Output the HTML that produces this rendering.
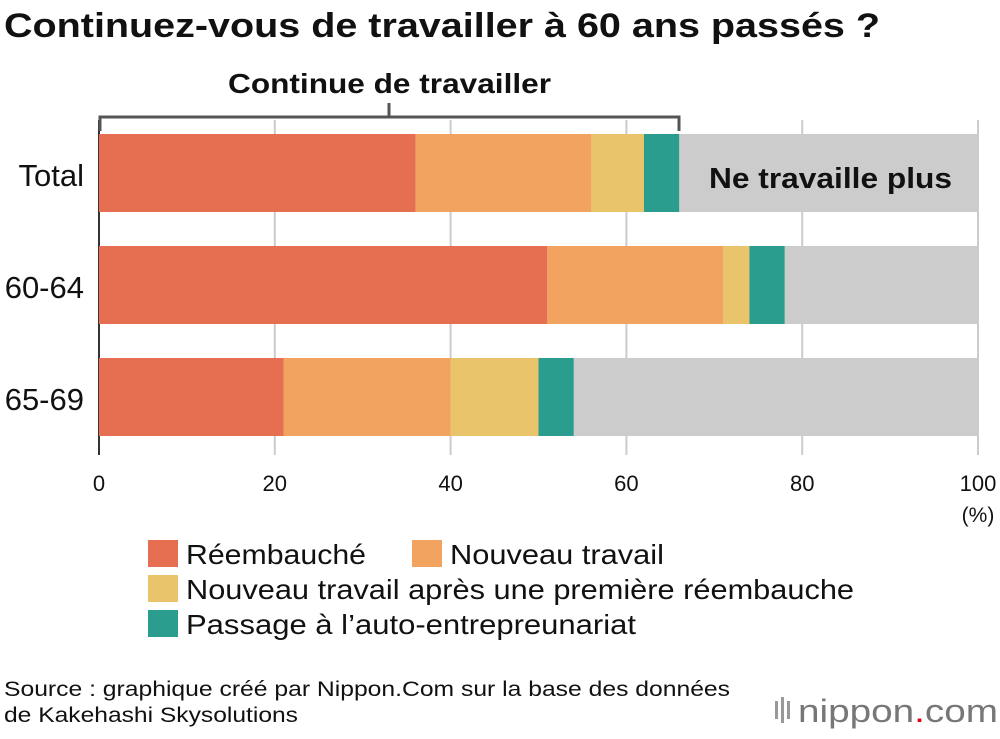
<!DOCTYPE html>
<html><head><meta charset="utf-8"><style>
body{margin:0;background:#fff;width:1000px;height:734px;overflow:hidden;font-family:"Liberation Sans",Arial,sans-serif}
svg text{font-family:"Liberation Sans",Arial,sans-serif}
</style></head><body>
<svg id="c" width="1000" height="734" xmlns="http://www.w3.org/2000/svg">
<text x="4" y="37" font-size="34" font-weight="bold" fill="#111" textLength="876" lengthAdjust="spacingAndGlyphs">Continuez-vous de travailler à 60 ans passés ?</text>
<g id="grid"></g>
<g id="bars"></g>
<g id="ticks"></g>
<path d="M100 131 V117 H679 V131 M389 117 V103" fill="none" stroke="#555" stroke-width="3"/>
<text x="228" y="93" font-size="28" font-weight="bold" fill="#111" textLength="323" lengthAdjust="spacingAndGlyphs">Continue de travailler</text>
<text x="709" y="188" font-size="29" font-weight="bold" fill="#111" textLength="243" lengthAdjust="spacingAndGlyphs">Ne travaille plus</text>
<text x="978" y="522" font-size="21" text-anchor="middle" fill="#111">(%)</text>
<g id="legend"></g>
<text x="4" y="696" font-size="21" fill="#111" textLength="726" lengthAdjust="spacingAndGlyphs">Source : graphique créé par Nippon.Com sur la base des données</text>
<text x="4" y="722" font-size="21" fill="#111" textLength="294" lengthAdjust="spacingAndGlyphs">de Kakehashi Skysolutions</text>
<g>
<rect x="775" y="701" width="3" height="18" fill="#999"/><rect x="781" y="697" width="3" height="26" fill="#999"/><rect x="787" y="701" width="3" height="18" fill="#999"/>
<text x="798" y="722" font-size="32" fill="#777" textLength="200" lengthAdjust="spacingAndGlyphs">nippon<tspan fill="#e60012">.</tspan>com</text>
</g>
</svg>
<script>
const categories=["Total","60-64","65-69"];
const seriesNames=["Réembauché","Nouveau travail","Nouveau travail après une première réembauche","Passage à l’auto-entrepreunariat"];
const reembauche=[36,51,21];
const nouveau=[20,20,19];
const apres=[6,3,10];
const passage=[4,4,4];
const ticks=[0,20,40,60,80,100];
const colors=["#e66f51","#f2a35f","#e9c46a","#2a9d8f"];
const NS="http://www.w3.org/2000/svg";
const x=v=>99+v*8.79;
const yTop=i=>134+i*112;
function mk(t,a,p){const e=document.createElementNS(NS,t);for(const k in a)e.setAttribute(k,a[k]);p.appendChild(e);return e;}
const grid=document.getElementById('grid'),bars=document.getElementById('bars'),tk=document.getElementById('ticks'),lg=document.getElementById('legend');
ticks.forEach(t=>{
 const l=mk('line',{x1:x(t),x2:x(t),y1:120,y2:455,stroke:t===0?'#333':'#ccc','stroke-width':2},grid);
 
 
 const tx=mk('text',{x:x(t),y:491,'font-size':22,'text-anchor':'middle',fill:'#111'},tk);tx.textContent=t;
 
 
});
const series=[reembauche,nouveau,apres,passage];
categories.forEach((c,i)=>{
 const y=yTop(i);
 const bg=mk('rect',{x:x(0),y:y,width:x(100)-x(0),height:78,fill:'#cccccc'},bars);
 
 
 let acc=0;
 series.forEach((s,j)=>{
  const r=mk('rect',{x:x(acc),y:y,width:x(acc+s[i])-x(acc),height:78,fill:colors[j]},bars);
  
  
  acc+=s[i];
 });
 const lb=mk('text',{x:84,y:y+52,'font-size':31,'text-anchor':'end',fill:'#111'},bars);lb.textContent=c;
 
 
});
const lpos=[[148,540],[412,540],[148,575],[148,610]];
const lwid=[180,214,668,450];
seriesNames.forEach((n,j)=>{
 const r=mk('rect',{x:lpos[j][0],y:lpos[j][1],width:30,height:27,fill:colors[j]},lg);
 
 
 const t=mk('text',{x:lpos[j][0]+38,y:lpos[j][1]+24,'font-size':28,fill:'#111',textLength:lwid[j],lengthAdjust:'spacingAndGlyphs'},lg);t.textContent=n;
 
 
});
</script>
</body></html>
